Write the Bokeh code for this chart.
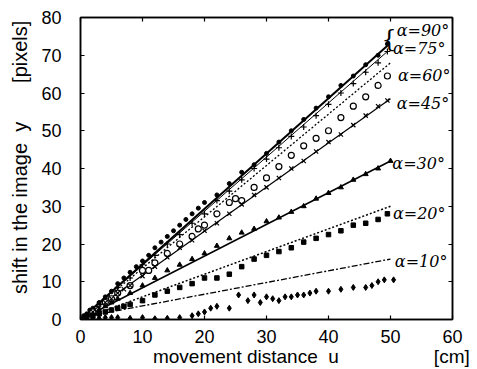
from bokeh.plotting import figure
from bokeh.models import ColumnDataSource, LinearAxis, Range1d, SingleIntervalTicker, Label, LabelSet
from bokeh.embed import file_html
from bokeh.resources import INLINE
from bokeh.core.properties import value

# ---------------- data ----------------
angles = ["90", "75", "60", "45", "30", "20", "10"]

u90 = [0.5, 1, 1.5, 2, 3, 4, 5, 6, 7, 8, 9, 10, 11, 12, 13, 14, 15, 16, 17, 18, 19, 20,
       22, 24, 26, 28, 30, 32, 34, 36, 38, 40, 42, 44, 46, 48, 49.5]
y90 = [1, 1.5, 2.5, 3, 4.5, 6, 7.5, 9.5, 11, 12.5, 14, 15.5, 17, 19, 20.5, 22, 23.5, 25, 26.5, 28, 29.5, 31,
       33, 36, 39, 41, 44, 47, 50, 53, 56, 59, 62, 64.5, 67.5, 70, 73]

u75 = [1, 2, 3, 4, 6, 8, 10, 12, 14, 16, 18, 20, 22, 24, 26, 28, 30, 32, 34, 36, 38, 40, 42, 44, 46, 48, 49.5]
y75 = [1, 2.5, 4, 5.5, 8.5, 11, 14.5, 17, 20, 22.5, 25.5, 28, 31.5, 34, 37, 40, 42.5, 45.5, 48.5, 51, 54,
       57, 60, 62.5, 65.5, 68, 71]

u60 = [2, 4, 5, 6, 8, 10, 11, 12, 14, 16, 18, 19, 20, 22, 24, 25, 26, 28, 30, 32, 34, 36, 38, 40, 42, 44, 46, 48, 49.5]
y60 = [2, 4.5, 5.5, 7, 9, 13, 13, 15, 17.5, 20, 22, 24, 25, 28, 31, 32, 31.5, 35, 37.5, 40.5, 43.5, 46, 48,
       50, 53.5, 56.5, 59, 62, 64.5]

u45 = [1, 2, 3, 4, 5, 6, 7, 8, 10, 12, 14, 16, 18, 20, 22, 24, 26, 28, 30, 32, 34, 36, 38, 40, 42, 44, 46, 48, 49.5]
y45 = [1, 2, 3, 4.5, 5.5, 7, 8, 9, 11.5, 14, 16.5, 19, 21, 23.5, 25.5, 28, 30.5, 33, 35, 37.5, 40, 42, 44.5,
       47, 49, 51.5, 54, 56.5, 58]

u30 = [1, 2, 3, 4, 5, 6, 8, 10, 12, 14, 16, 18, 20, 22, 24, 26, 28, 30, 32, 34, 36, 38, 40, 42, 44, 46, 48, 50]
y30 = [1, 1.5, 2.5, 3.5, 4.5, 5.5, 7, 9, 11, 13, 14.5, 16, 17.5, 19.5, 21.5, 23, 24, 26, 27, 28.5, 30, 32,
       33.5, 35, 37, 38.5, 40, 42]

u20 = [1, 2, 3, 4, 5, 6, 7, 8, 10, 12, 14, 16, 18, 20, 22, 24, 26, 28, 30, 32, 34, 36, 38, 40, 42, 44, 46, 48, 49.5]
y20 = [0.5, 1, 1.5, 2, 2.5, 3, 3.5, 4, 5, 6.5, 7.5, 8.5, 9.5, 11, 11, 12, 14, 16, 17, 18, 19, 20.5, 21.5,
       22.5, 23.5, 25, 25.5, 26.5, 28]

u10 = [1, 2, 3, 4, 5, 6, 8, 10, 12, 14, 16, 18, 19, 20, 21, 22, 24, 25.5, 27, 28, 29, 30, 31, 32, 33, 34,
       35, 36, 37, 38, 40, 42, 44, 46, 47, 48, 49, 50.5]
y10 = [0.5, 0.3, 0.3, 0.5, 0.5, 0.5, 0.3, 0.5, 0.2, 0.3, 0.5, 1, 1.5, 2, 3, 3.5, 3, 6.5, 5, 6.5, 4.5, 6,
       5.5, 5, 6, 6, 6.5, 6.5, 7, 7.5, 7.5, 8, 8.5, 8.5, 9, 10, 10.5, 10.5]

# fitted lines: start and end points
fit_u0 = [0, 0, 0, 0, 0, 0, 0]
fit_u1 = [49.5, 49.5, 50, 50, 50, 50, 50]
fit_y0 = [0, 0, 0, 0, 0, 0, 0.5]
fit_y1 = [72.5, 71, 68, 58.5, 42, 30, 16]

x_title = "movement distance\u00a0\u00a0u"
x_unit = "[cm]"
y_title = "shift in the image\u00a0\u00a0y"
y_unit = "[pixels]"

# ---------------- figure ----------------
p = figure(width=477, height=369, output_backend="svg", toolbar_location=None,
           x_range=Range1d(0, 60), y_range=Range1d(0, 80),
           min_border_left=80, min_border_right=25, min_border_top=17, min_border_bottom=10,
           background_fill_color="white", border_fill_color="white")
p.grid.visible = False
p.outline_line_color = "black"
p.outline_line_width = 1.5

tick_font = "Liberation Sans"


def style_axis(ax, labels=True):
    ax.ticker = SingleIntervalTicker(interval=10)
    ax.minor_tick_line_color = None
    ax.major_tick_in = 4
    ax.major_tick_out = 0
    ax.major_tick_line_width = 1.2
    ax.axis_line_width = 1.5
    ax.axis_line_color = "black"
    ax.major_label_text_font = tick_font
    ax.major_label_text_color = "black"
    ax.major_label_text_font_size = "18px"
    if not labels:
        ax.major_label_overrides = {v: "" for v in range(0, 90, 10)}
        ax.major_label_text_font_size = "8px"
        ax.major_label_standoff = 0


style_axis(p.xaxis[0])
style_axis(p.yaxis[0])
p.xaxis[0].major_label_standoff = 6
p.yaxis[0].major_label_standoff = 15

p.xaxis.axis_label = "\u00a0" * 17 + x_title + "\u00a0" * 18 + x_unit
p.xaxis.axis_label_standoff = 0
p.yaxis.axis_label = "\u00a0" * 4 + y_title + "\u00a0" * 7 + y_unit
p.yaxis.axis_label_standoff = 7
for ax in (p.xaxis[0], p.yaxis[0]):
    ax.axis_label_text_font = tick_font
    ax.axis_label_text_font_style = "normal"
    ax.axis_label_text_color = "black"
p.xaxis.axis_label_text_font_size = "19px"
p.yaxis.axis_label_text_font_size = "20px"

top_ax = LinearAxis()
right_ax = LinearAxis()
style_axis(top_ax, labels=False)
style_axis(right_ax, labels=False)
p.add_layout(top_ax, "above")
p.add_layout(right_ax, "right")

# ---------------- fitted lines ----------------
line_styles = [
    dict(line_width=2.0, line_dash="solid"),
    dict(line_width=1.0, line_dash="solid"),
    dict(line_width=1.3, line_dash="2 2"),
    dict(line_width=1.2, line_dash="solid"),
    dict(line_width=1.6, line_dash="solid"),
    dict(line_width=1.5, line_dash="2 2"),
    dict(line_width=1.3, line_dash="6 2 2 2"),
]
for i, st in enumerate(line_styles):
    p.line([fit_u0[i], fit_u1[i]], [fit_y0[i], fit_y1[i]], line_color="black", **st)

# ---------------- measured points ----------------
p.scatter(u90, y90, marker="circle", size=4, color="black")
p.scatter(u75, y75, marker="cross", size=6, line_color="black", line_width=1.2)
p.scatter(u60, y60, marker="circle", size=6, line_color="black", fill_color="white", line_width=1.2)
p.scatter(u45, y45, marker="x", size=6, line_color="black", line_width=1.2)
p.scatter(u30, y30, marker="triangle", size=5, color="black")
p.scatter(u20, y20, marker="square", size=4.5, color="black")
p.scatter(u10, y10, marker="diamond", size=6, color="black")

# ---------------- handwritten-style labels ----------------
lab_x = [51.0, 50.4, 51.2, 51.0, 50.3, 50.4, 50.7]
lab_y = [76.5, 71.8, 64.6, 57.3, 41.4, 28.2, 15.3]
lab_text = ["\u03b1=" + a + "\u00b0" for a in angles]
lab_src = ColumnDataSource(dict(x=lab_x, y=lab_y, text=lab_text))
p.add_layout(LabelSet(x="x", y="y", text="text", source=lab_src,
                      text_font=value("DejaVu Serif"), text_font_style="italic",
                      text_font_size="16px", text_color="black",
                      text_align="left", text_baseline="middle"))
p.add_layout(Label(x=51.0, y=74.2, text="{", text_font="DejaVu Serif",
                   text_font_size="24px", text_color="black",
                   text_align="right", text_baseline="middle"))

open("out.html", "w").write(file_html(p, INLINE))
